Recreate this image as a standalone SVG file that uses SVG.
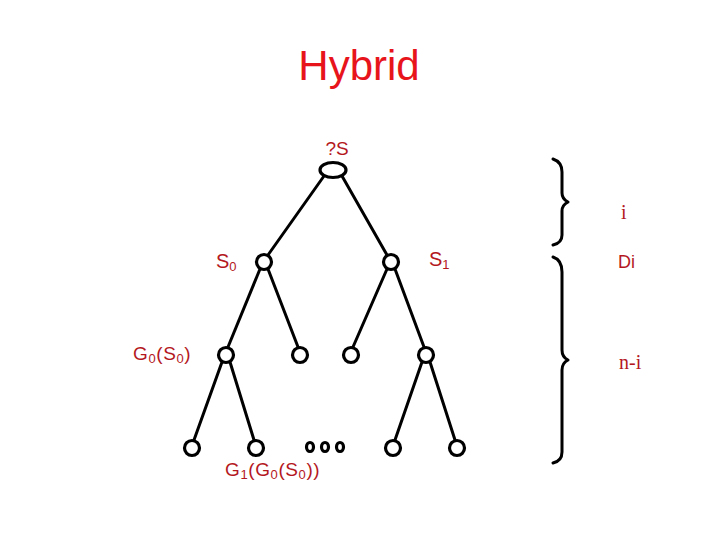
<svg xmlns="http://www.w3.org/2000/svg" width="720" height="540" viewBox="0 0 720 540">
<style>
.t{font-family:"Liberation Sans",Arial,sans-serif;fill:#b4181e}
.s{font-family:"Liberation Serif","Times New Roman",serif;fill:#b4181e}
.e line{stroke:#000;stroke-width:3;stroke-linecap:round}
.n{fill:#fff;stroke:#000;stroke-width:3.2}
.b{fill:none;stroke:#000;stroke-width:3;stroke-linecap:round;stroke-linejoin:round}
</style>
<rect width="720" height="540" fill="#fff"/>
<text x="359" y="80" text-anchor="middle" font-family="Liberation Sans,Arial,sans-serif" font-size="42" fill="#e8141b">Hybrid</text>
<g id="connectors" class="e">
<line x1="324" y1="176" x2="268" y2="255"/>
<line x1="342" y1="176" x2="387" y2="255"/>
<line x1="260" y1="269" x2="228" y2="347"/>
<line x1="268" y1="269" x2="298" y2="347"/>
<line x1="387" y1="269" x2="353" y2="347"/>
<line x1="395" y1="269" x2="424" y2="347"/>
<line x1="222" y1="362" x2="194" y2="440"/>
<line x1="230" y1="362" x2="254" y2="440"/>
<line x1="422" y1="362" x2="395" y2="440"/>
<line x1="430" y1="362" x2="455" y2="440"/>
</g>
<g id="root"><ellipse class="n" cx="333" cy="170" rx="13" ry="7.5"/><text class="t" x="337" y="155" text-anchor="middle" font-size="19">?S</text></g>
<g id="s0"><circle class="n" cx="264" cy="262" r="7.5"/><text class="t" x="216" y="268" font-size="20">S<tspan font-size="13" dy="3">0</tspan></text></g>
<g id="s1"><circle class="n" cx="391" cy="262" r="7.5"/><text class="t" x="429" y="266" font-size="20">S<tspan font-size="13" dy="3">1</tspan></text></g>
<g id="g0"><circle class="n" cx="226" cy="355" r="7.5"/><text class="t" x="133" y="360" font-size="19" letter-spacing="0.6">G<tspan font-size="13" dy="3">0</tspan><tspan dy="-3">(S</tspan><tspan font-size="13" dy="3">0</tspan><tspan dy="-3">)</tspan></text></g>
<g id="n2b"><circle class="n" cx="300" cy="355" r="7.5"/></g>
<g id="n2c"><circle class="n" cx="351" cy="355" r="7.5"/></g>
<g id="n2d"><circle class="n" cx="426" cy="355" r="7.5"/></g>
<g id="g1"><circle class="n" cx="192" cy="448" r="7.5"/><text class="t" x="225" y="476" font-size="19" letter-spacing="0.6">G<tspan font-size="13" dy="3">1</tspan><tspan dy="-3">(G</tspan><tspan font-size="13" dy="3">0</tspan><tspan dy="-3">(S</tspan><tspan font-size="13" dy="3">0</tspan><tspan dy="-3">))</tspan></text></g>
<g id="n3b"><circle class="n" cx="256" cy="448" r="7.5"/></g>
<g id="n3c"><circle class="n" cx="393" cy="448" r="7.5"/></g>
<g id="n3d"><circle class="n" cx="457" cy="448" r="7.5"/></g>
<g id="dots"><ellipse class="n" cx="310" cy="447" rx="3.5" ry="4.5"/><ellipse class="n" cx="325" cy="447" rx="3.5" ry="4.5"/><ellipse class="n" cx="340" cy="447" rx="3.5" ry="4.5"/></g>
<g id="brace-i"><path class="b" d="M553,159 Q562,162 562,172 L562,193 Q562,199 568,202 Q562,205 562,211 L562,235 Q562,243 553,245"/><text class="s" x="621" y="219" font-size="20">i</text></g>
<g id="brace-ni"><path class="b" d="M553,257 Q562,260 562,272 L562,350 Q562,357 568,360 Q562,363 562,370 L562,452 Q562,461 553,463"/><text class="t" x="618" y="268" font-size="18">Di</text><text class="s" x="619" y="369" font-size="20">n-i</text></g>
</svg>
